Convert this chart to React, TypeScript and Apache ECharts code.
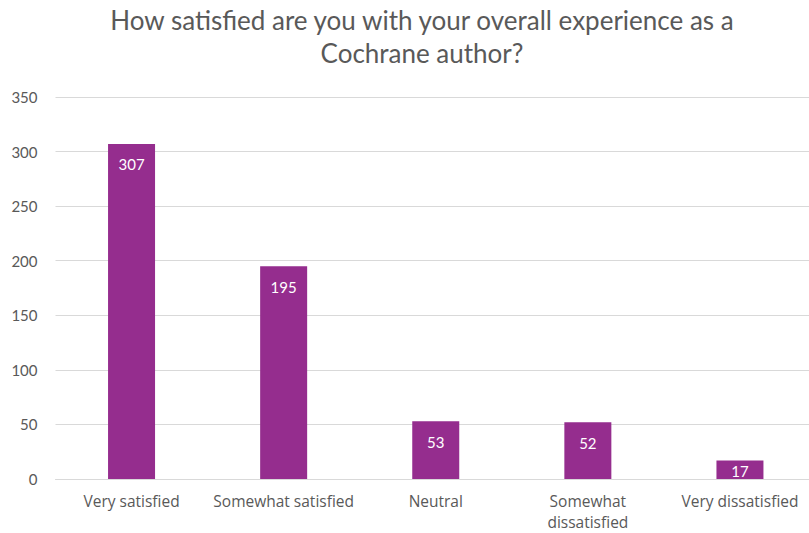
import React, { useEffect, useRef } from "react";
import * as echarts from "echarts";

const categories = [
  "Very satisfied",
  "Somewhat satisfied",
  "Neutral",
  "Somewhat\ndissatisfied",
  "Very dissatisfied",
];
const values = [307, 195, 53, 52, 17];
const titleText = "How satisfied are you with your overall experience as a\nCochrane author?";

export default function App() {
  const ref = useRef<HTMLDivElement>(null);
  useEffect(() => {
    if (!ref.current) return;
    const chart = echarts.init(ref.current, null, { renderer: "svg" });
    chart.setOption({
      animation: false,
      title: {
        text: titleText,
        left: 417,
        textAlign: "center",
        top: -2,
        textStyle: {
          fontFamily: "Lato",
          fontWeight: "normal",
          fontSize: 26,
          color: "#595959",
          lineHeight: 33,
        },
      },
      grid: { left: 55.5, right: 14, top: 97, bottom: 54, containLabel: false },
      xAxis: {
        type: "category",
        data: categories,
        axisTick: { show: false },
        axisLine: { lineStyle: { color: "#D9D9D9", width: 1 } },
        axisLabel: {
          color: "#595959",
          fontFamily: "Open Sans",
          fontSize: 15.5,
          margin: 11,
          lineHeight: 21,
          interval: 0,
        },
      },
      yAxis: {
        type: "value",
        min: 0,
        max: 350,
        interval: 50,
        axisLine: { show: false },
        axisTick: { show: false },
        splitLine: { lineStyle: { color: "#D9D9D9", width: 1 } },
        axisLabel: {
          color: "#595959",
          fontFamily: "Lato",
          fontSize: 15,
          margin: 18,
        },
      },
      series: [
        {
          type: "bar",
          data: values.map((v) => (v < 30 ? { value: v, label: { distance: 3 } } : v)),
          barWidth: 47,
          itemStyle: { color: "#952D8E" },
          label: {
            show: true,
            position: "insideTop",
            distance: 13,
            color: "#FFFFFF",
            fontFamily: "Lato",
            fontSize: 15,
          },
        },
      ],
    });
    return () => chart.dispose();
  }, []);
  return (
    <div style={{ position: "absolute", left: 0, top: 0, width: 809, height: 533, overflow: "hidden", background: "#fff" }}>
      <div ref={ref} style={{ width: 830, height: 533 }} />
    </div>
  );
}
